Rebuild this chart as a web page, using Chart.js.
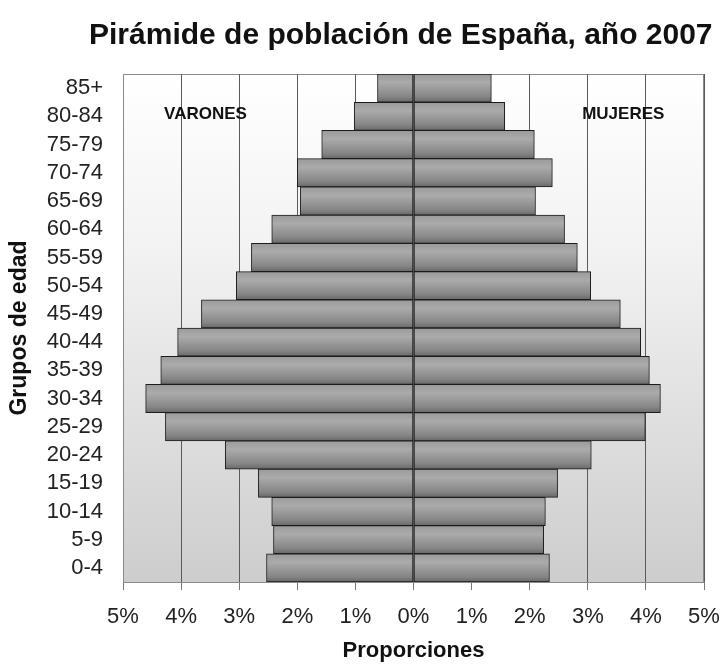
<!DOCTYPE html>
<html>
<head>
<meta charset="utf-8">
<script src="https://cdn.jsdelivr.net/npm/chart.js@4.4.0/dist/chart.umd.min.js"></script>
<style>
  html, body { margin: 0; padding: 0; background: #fff; overflow: hidden; }
  #myChart { display: block; }
</style>
</head>
<body>
<canvas id="myChart" width="723" height="666"></canvas>
<script>
const titleText = "Pirámide de población de España, año 2007";
const groups = ["85+", "80-84", "75-79", "70-74", "65-69", "60-64", "55-59", "50-54", "45-49",
  "40-44", "35-39", "30-34", "25-29", "20-24", "15-19", "10-14", "5-9", "0-4"];
// porcentajes, de arriba abajo
const varones = [0.62, 1.02, 1.58, 2.00, 1.95, 2.44, 2.79, 3.05, 3.65,
  4.06, 4.35, 4.61, 4.27, 3.24, 2.67, 2.44, 2.41, 2.53];
const mujeres = [1.34, 1.57, 2.08, 2.39, 2.10, 2.60, 2.82, 3.05, 3.56,
  3.91, 4.06, 4.25, 3.99, 3.06, 2.48, 2.27, 2.24, 2.34];
const xMin = -5, xMax = 5, xStep = 1;
const sideLabels = [{ text: "VARONES", x: -3.58 }, { text: "MUJERES", x: 3.61 }];

const font = "'Liberation Sans', Arial, sans-serif";

function barFill(context) {
  const chart = context.chart;
  const y = chart.scales.y;
  if (!chart.chartArea || !y) return "#999";
  const c = y.getPixelForValue(context.dataIndex);
  const h = y.height / groups.length;
  const g = chart.ctx.createLinearGradient(0, c - h / 2, 0, c + h / 2);
  g.addColorStop(0, "#9a9a9a");
  g.addColorStop(0.3, "#ababab");
  g.addColorStop(0.8, "#868686");
  g.addColorStop(1, "#686868");
  return g;
}

const decor = {
  id: "decor",
  beforeDraw(chart) {
    const { ctx, chartArea: a } = chart;
    ctx.save();
    const g = ctx.createLinearGradient(0, a.top, 0, a.bottom);
    g.addColorStop(0, "#ffffff");
    g.addColorStop(0.35, "#f2f2f2");
    g.addColorStop(1, "#cdcdcd");
    ctx.fillStyle = g;
    ctx.fillRect(a.left, a.top, a.right - a.left, a.bottom - a.top);
    ctx.strokeStyle = "#8a8a8a";
    ctx.lineWidth = 1;
    ctx.strokeRect(a.left + 0.5, a.top + 0.5, a.right - a.left - 1, a.bottom - a.top);
    // titulo
    ctx.fillStyle = "#111";
    ctx.font = "bold 30px " + font;
    ctx.textAlign = "left";
    ctx.textBaseline = "alphabetic";
    ctx.fillText(titleText, 89, 44);
    ctx.restore();
  },
  afterDatasetsDraw(chart) {
    const { ctx, scales } = chart;
    ctx.save();
    ctx.fillStyle = "#111";
    ctx.font = "bold 17px " + font;
    ctx.textAlign = "center";
    ctx.textBaseline = "middle";
    const yy = scales.y.getPixelForValue(1) - 2;
    sideLabels.forEach(l => ctx.fillText(l.text, scales.x.getPixelForValue(l.x), yy));
    ctx.restore();
  }
};

const barStyle = {
  backgroundColor: barFill,
  borderColor: "#1c1c1c",
  borderWidth: 1,
  borderSkipped: false,
  barPercentage: 1,
  categoryPercentage: 1
};

new Chart(document.getElementById("myChart"), {
  type: "bar",
  data: {
    labels: groups,
    datasets: [
      Object.assign({ label: "Varones", data: varones.map(v => -v) }, barStyle),
      Object.assign({ label: "Mujeres", data: mujeres }, barStyle)
    ]
  },
  options: {
    indexAxis: "y",
    responsive: false,
    animation: false,
    devicePixelRatio: 1,
    layout: { padding: { top: 74, right: 19, left: 0, bottom: 0 } },
    plugins: { legend: { display: false }, tooltip: { enabled: false }, title: { display: false } },
    scales: {
      x: {
        stacked: true,
        min: xMin,
        max: xMax,
        ticks: {
          stepSize: xStep,
          color: "#222",
          font: { family: font, size: 22 },
          padding: 14,
          callback: v => Math.abs(v) + "%"
        },
        grid: { color: "#5a5a5a", lineWidth: 1, tickLength: 8, tickColor: "#777" },
        border: { color: "#8a8a8a" },
        title: {
          display: true,
          text: "Proporciones",
          color: "#111",
          font: { family: font, size: 22, weight: "bold" },
          padding: { top: 0, bottom: 2 }
        },
        afterFit(scale) {
          scale.height = 84;
          scale.paddingLeft = 0;
          scale.paddingRight = 0;
        }
      },
      y: {
        stacked: true,
        ticks: { color: "#222", font: { family: font, size: 22 }, padding: 20, autoSkip: false },
        grid: { display: false, drawTicks: false },
        border: { color: "#8a8a8a" },
        title: {
          display: true,
          text: "Grupos de edad",
          color: "#111",
          font: { family: font, size: 23, weight: "bold" },
          padding: { top: 6, bottom: 0 }
        },
        afterFit(scale) { scale.width = 123; }
      }
    }
  },
  plugins: [decor]
});
</script>
</body>
</html>
